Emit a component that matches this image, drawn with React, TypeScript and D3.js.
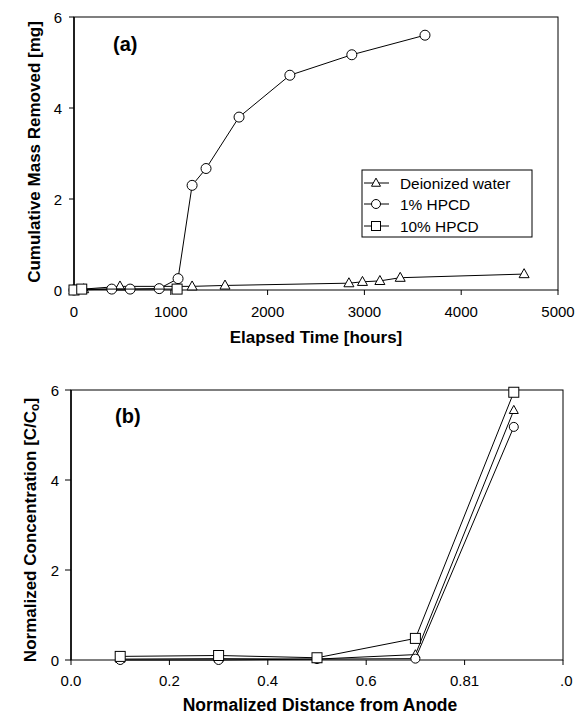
import React from "react";
import * as d3 from "d3";

// Panel (a) data: elapsed time [hours] vs cumulative mass removed [mg]
const waterTime = [0, 100, 475, 1220, 1560, 2840, 2980, 3160, 3370, 4650];
const waterMass = [0, 0.02, 0.08, 0.08, 0.1, 0.15, 0.18, 0.2, 0.27, 0.35];
const hpcd1Time = [0, 390, 580, 880, 1075, 1220, 1364, 1705, 2230, 2870, 3626];
const hpcd1Mass = [0, 0.02, 0.02, 0.03, 0.25, 2.3, 2.67, 3.8, 4.72, 5.17, 5.6];
const hpcd10Time = [0, 80, 1065];
const hpcd10Mass = [0, 0.02, 0.02];

// Panel (b) data: normalized distance vs normalized concentration
const distance = [0.1, 0.3, 0.5, 0.7, 0.9];
const waterConc = [0.02, 0.03, 0.02, 0.12, 5.55];
const hpcd1Conc = [0.0, 0.0, 0.02, 0.03, 5.18];
const hpcd10Conc = [0.08, 0.1, 0.05, 0.48, 5.95];

const aXTicks = [0, 1000, 2000, 3000, 4000, 5000];
const yTicks = [0, 2, 4, 6];
const bXTicks = [0, 0.2, 0.4, 0.6, 0.8, 1.0];
const bXTickLabels = ["0.0", "0.2", "0.4", "0.6", "0.81", ".0"];
const seriesNames = ["Deionized water", "1% HPCD", "10% HPCD"];

const FONT = "Arial, 'Liberation Sans', sans-serif";

type Shape = "triangle" | "circle" | "square";

function Marker({ x, y, shape, size }: { x: number; y: number; shape: Shape; size: number }) {
  const s = size;
  if (shape === "circle")
    return <circle cx={x} cy={y} r={s / 2} fill="white" stroke="black" strokeWidth={1} />;
  if (shape === "square")
    return <rect x={x - s / 2} y={y - s / 2} width={s} height={s} fill="white" stroke="black" strokeWidth={1} />;
  const h = s * 0.9;
  return (
    <polygon
      points={`${x},${y - h * 0.6} ${x - s / 2},${y + h * 0.4} ${x + s / 2},${y + h * 0.4}`}
      fill="white"
      stroke="black"
      strokeWidth={1}
    />
  );
}

function Series({ xs, ys, sx, sy, shape, size }: any) {
  const line = d3
    .line<number>()
    .x((_, i) => sx(xs[i]))
    .y((d) => sy(d));
  return (
    <g>
      <path d={line(ys) || ""} fill="none" stroke="black" strokeWidth={1} />
      {ys.map((v: number, i: number) => (
        <Marker key={i} x={sx(xs[i])} y={sy(v)} shape={shape} size={size} />
      ))}
    </g>
  );
}

export default function App() {
  // panel a
  const ax = d3.scaleLinear().domain([0, 5000]).range([74, 558]);
  const ay = d3.scaleLinear().domain([0, 6]).range([290, 17]);
  // panel b
  const bx = d3.scaleLinear().domain([0, 1]).range([71, 563]);
  const by = d3.scaleLinear().domain([0, 6]).range([660, 390]);

  const legendY = [183, 204, 226];
  const legendShapes: Shape[] = ["triangle", "circle", "square"];

  return (
    <svg
      width={576}
      height={714}
      style={{ position: "absolute", left: 0, top: 0, background: "white" }}
      fontFamily={FONT}
    >
      <rect x={0} y={0} width={576} height={714} fill="white" />
      {/* Panel a */}
      <rect x={74} y={17} width={484} height={273} fill="none" stroke="black" strokeWidth={1} />
      <line x1={74} x2={74} y1={17} y2={290} stroke="black" strokeWidth={1.5} />
      {yTicks.map((t) => (
        <g key={"ay" + t}>
          <line x1={69} x2={74} y1={ay(t)} y2={ay(t)} stroke="black" />
          <text x={62} y={ay(t) + 5.5} fontSize={15} textAnchor="end">
            {t}
          </text>
        </g>
      ))}
      {aXTicks.map((t) => (
        <g key={"ax" + t}>
          <line x1={ax(t)} x2={ax(t)} y1={290} y2={295} stroke="black" />
          <text x={ax(t)} y={317} fontSize={15} textAnchor="middle">
            {t}
          </text>
        </g>
      ))}
      <Series xs={waterTime} ys={waterMass} sx={ax} sy={ay} shape="triangle" size={10} />
      <Series xs={hpcd1Time} ys={hpcd1Mass} sx={ax} sy={ay} shape="circle" size={10} />
      <Series xs={hpcd10Time} ys={hpcd10Mass} sx={ax} sy={ay} shape="square" size={10} />
      <text x={113} y={51} fontSize={20} fontWeight="bold">
        (a)
      </text>
      <text x={316} y={343} fontSize={17} fontWeight="bold" textAnchor="middle">
        Elapsed Time [hours]
      </text>
      <text
        transform="translate(40,152) rotate(-90)"
        fontSize={17}
        fontWeight="bold"
        textAnchor="middle"
      >
        Cumulative Mass Removed [mg]
      </text>
      {/* Legend */}
      <rect x={362} y={170} width={170} height={67} fill="white" stroke="black" strokeWidth={1} />
      {seriesNames.map((n, i) => (
        <g key={n}>
          <line x1={364} x2={389} y1={legendY[i]} y2={legendY[i]} stroke="black" />
          <Marker x={376} y={legendY[i]} shape={legendShapes[i]} size={9} />
          <text x={400} y={legendY[i] + 5.5} fontSize={15.4}>
            {n}
          </text>
        </g>
      ))}

      {/* Panel b */}
      <rect x={71} y={390} width={492} height={270} fill="none" stroke="black" strokeWidth={1} />
      <line x1={71} x2={71} y1={390} y2={660} stroke="black" strokeWidth={1.5} />
      {yTicks.map((t) => (
        <g key={"by" + t}>
          <line x1={65} x2={71} y1={by(t)} y2={by(t)} stroke="black" />
          <text x={59} y={by(t) + 5.5} fontSize={15} textAnchor="end">
            {t}
          </text>
        </g>
      ))}
      {bXTicks.map((t, i) => (
        <g key={"bx" + i}>
          <line x1={bx(t)} x2={bx(t)} y1={660} y2={665} stroke="black" />
          <text
            x={i === bXTicks.length - 1 ? bx(t) - 3 : bx(t)}
            y={686}
            fontSize={15}
            textAnchor={i === bXTicks.length - 1 ? "start" : "middle"}
          >
            {bXTickLabels[i]}
          </text>
        </g>
      ))}
      <Series xs={distance} ys={waterConc} sx={bx} sy={by} shape="triangle" size={9} />
      <Series xs={distance} ys={hpcd1Conc} sx={bx} sy={by} shape="circle" size={9} />
      <Series xs={distance} ys={hpcd10Conc} sx={bx} sy={by} shape="square" size={10} />
      <text x={115} y={423} fontSize={20} fontWeight="bold">
        (b)
      </text>
      <text x={320} y={711} fontSize={17.5} fontWeight="bold" textAnchor="middle">
        Normalized Distance from Anode
      </text>
      <text transform="translate(36,530) rotate(-90)" fontSize={17} fontWeight="bold" textAnchor="middle">
        Normalized Concentration [C/C
        <tspan fontSize={12} dy={3}>
          o
        </tspan>
        <tspan dy={-3}>]</tspan>
      </text>
    </svg>
  );
}
